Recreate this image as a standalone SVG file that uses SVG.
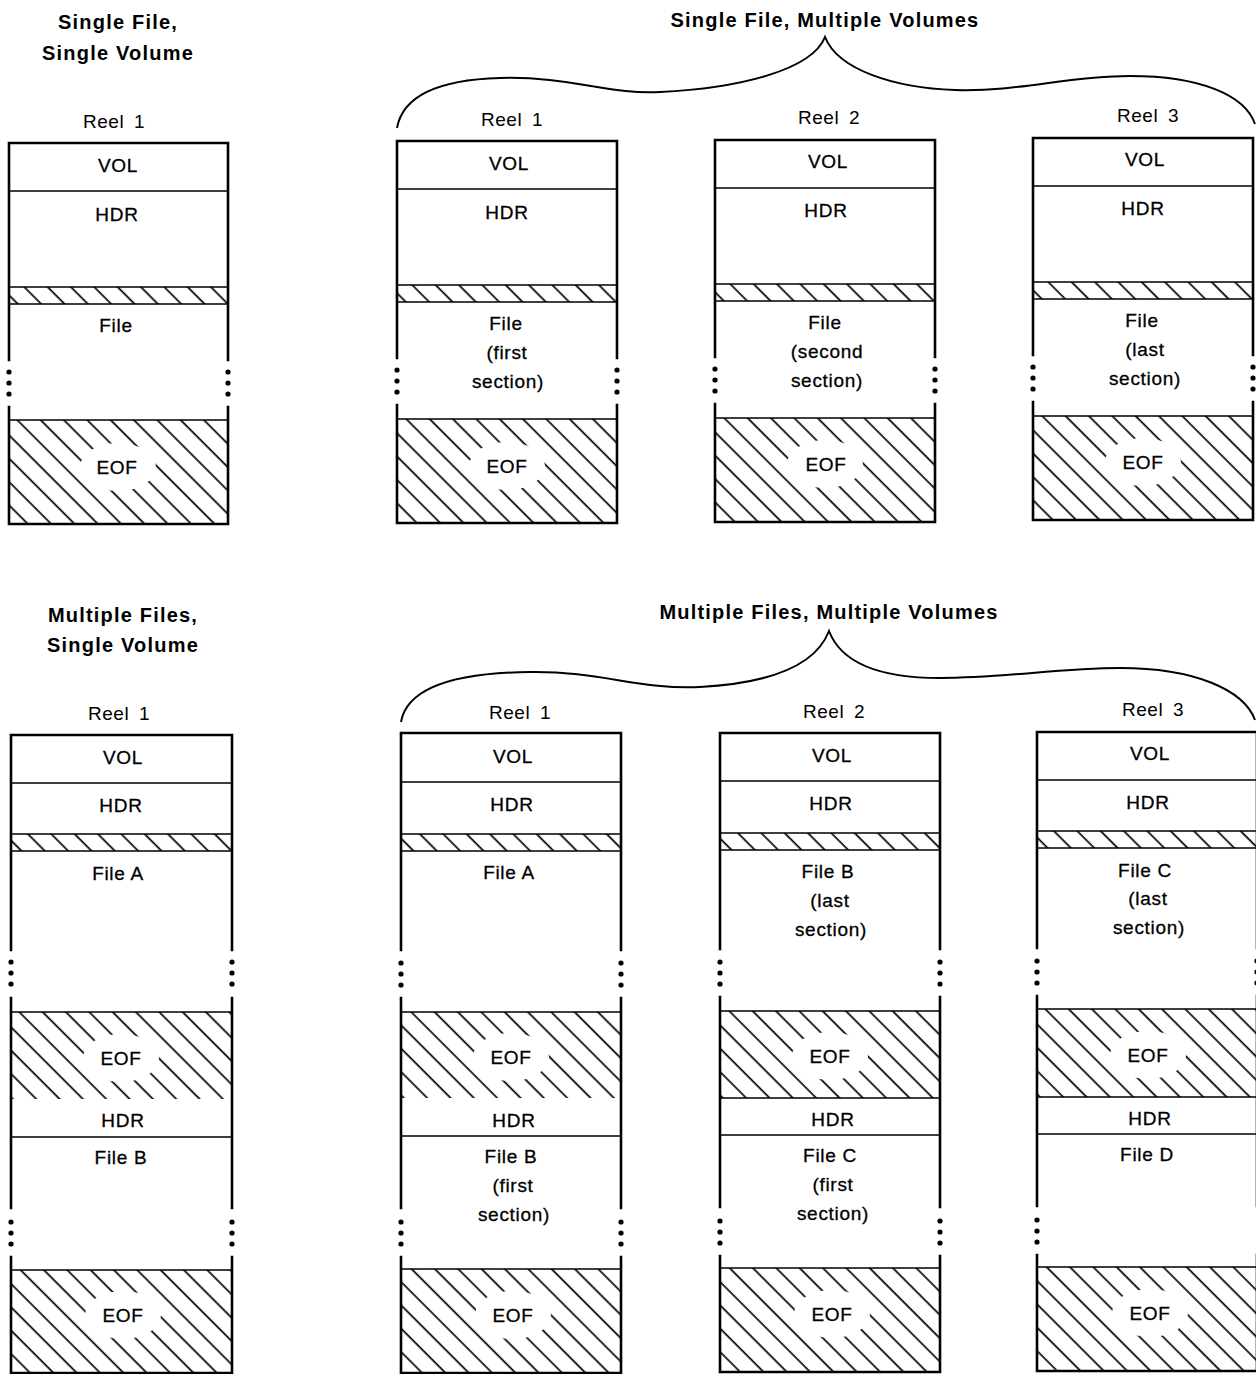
<svg xmlns="http://www.w3.org/2000/svg" width="1256" height="1374" viewBox="0 0 1256 1374">
<defs>
<pattern id="hatch" patternUnits="userSpaceOnUse" width="16.5" height="16.5" patternTransform="rotate(-45)">
<line x1="8" y1="-2" x2="8" y2="19" stroke="#000" stroke-width="1.7"/>
</pattern>
<g id="dots"><circle cx="0" cy="0" r="2.6"/><circle cx="0" cy="11" r="2.6"/><circle cx="0" cy="22" r="2.6"/></g>
</defs>
<style>
.bd{fill:none;stroke:#000;stroke-width:2.6;stroke-linecap:square}
.ln{fill:none;stroke:#000;stroke-width:1.6}
.ht{fill:url(#hatch)}
.gap{fill:#fff}
.br{fill:none;stroke:#000;stroke-width:2}
text{font-family:"Liberation Sans",Arial,sans-serif;fill:#000}
.ttl{font-size:20px;font-weight:bold;letter-spacing:1.2px;text-anchor:middle}
.rl{font-size:19px;letter-spacing:0.5px;word-spacing:4px;text-anchor:middle}
.lb{font-size:19px;letter-spacing:0.7px;text-anchor:middle;stroke:#000;stroke-width:0.3}
</style>
<rect width="1256" height="1374" fill="#fff"/>

<!-- titles -->
<g id="titles">
<text class="ttl" x="118" y="29">Single File,</text>
<text class="ttl" x="118" y="60">Single Volume</text>
<text class="ttl" x="825" y="27">Single File, Multiple Volumes</text>
<text class="ttl" x="123" y="622">Multiple Files,</text>
<text class="ttl" x="123" y="652">Single Volume</text>
<text class="ttl" x="829" y="619">Multiple Files, Multiple Volumes</text>
</g>

<g id="connectors">
<path class="br" d="M397,128 C402,100 430,80 500,78 C570,76 610,95 660,92 C740,88 812,70 825,37 C838,70 895,88 955,90 C1020,92 1065,76 1130,76 C1200,76 1245,95 1255,124"/>
<path class="br" d="M401,722 C406,694 440,673 530,672 C600,671 640,690 700,687 C772,683 816,665 829,631 C842,665 885,678 940,678 C1005,678 1058,668 1120,668 C1195,668 1244,690 1255,720"/>
</g>

<!-- Top row: single file single volume -->
<g id="sfsv-reel1">
<text class="rl" x="114" y="128">Reel 1</text>
<g transform="translate(9,143)">
<rect class="ht" x="0" y="144" width="219" height="17"/>
<rect class="ht" x="0" y="277" width="219" height="104"/>
<ellipse class="gap" cx="109" cy="324" rx="38" ry="24"/>
<path class="ln" d="M0,48H219M0,144H219M0,161H219M0,277H219"/>
<path class="bd" d="M0,0H219M0,0V217M0,264V381M219,0V217M219,264V381M0,381H219"/>
<use href="#dots" x="0" y="229"/><use href="#dots" x="219" y="229"/>
<text class="lb" x="109" y="29">VOL</text>
<text class="lb" x="108" y="78">HDR</text>
<text class="lb" x="107" y="189">File</text>
<text class="lb" x="108" y="331">EOF</text>
</g>
</g>

<g id="sfmv-reel1">
<text class="rl" x="512" y="126">Reel 1</text>
<g transform="translate(397,141)">
<rect class="ht" x="0" y="144" width="220" height="17"/>
<rect class="ht" x="0" y="278" width="220" height="104"/>
<ellipse class="gap" cx="110" cy="325" rx="38" ry="24"/>
<path class="ln" d="M0,48H220M0,144H220M0,161H220M0,278H220"/>
<path class="bd" d="M0,0H220M0,0V217M0,264V382M220,0V217M220,264V382M0,382H220"/>
<use href="#dots" x="0" y="229"/><use href="#dots" x="220" y="229"/>
<text class="lb" x="112" y="29">VOL</text>
<text class="lb" x="110" y="78">HDR</text>
<text class="lb" x="109" y="189">File</text>
<text class="lb" x="110" y="218">(first</text>
<text class="lb" x="111" y="247">section)</text>
<text class="lb" x="110" y="332">EOF</text>
</g>
</g>

<g id="sfmv-reel2">
<text class="rl" x="829" y="124">Reel 2</text>
<g transform="translate(715,140)">
<rect class="ht" x="0" y="144" width="220" height="17"/>
<rect class="ht" x="0" y="278" width="220" height="104"/>
<ellipse class="gap" cx="110" cy="324" rx="38" ry="24"/>
<path class="ln" d="M0,48H220M0,144H220M0,161H220M0,278H220"/>
<path class="bd" d="M0,0H220M0,0V217M0,264V382M220,0V217M220,264V382M0,382H220"/>
<use href="#dots" x="0" y="229"/><use href="#dots" x="220" y="229"/>
<text class="lb" x="113" y="28">VOL</text>
<text class="lb" x="111" y="77">HDR</text>
<text class="lb" x="110" y="189">File</text>
<text class="lb" x="112" y="218">(second</text>
<text class="lb" x="112" y="247">section)</text>
<text class="lb" x="111" y="331">EOF</text>
</g>
</g>

<g id="sfmv-reel3">
<text class="rl" x="1148" y="122">Reel 3</text>
<g transform="translate(1033,138)">
<rect class="ht" x="0" y="144" width="220" height="17"/>
<rect class="ht" x="0" y="278" width="220" height="104"/>
<ellipse class="gap" cx="110" cy="324" rx="38" ry="24"/>
<path class="ln" d="M0,48H220M0,144H220M0,161H220M0,278H220"/>
<path class="bd" d="M0,0H220M0,0V217M0,264V382M220,0V217M220,264V382M0,382H220"/>
<use href="#dots" x="0" y="229"/><use href="#dots" x="220" y="229"/>
<text class="lb" x="112" y="28">VOL</text>
<text class="lb" x="110" y="77">HDR</text>
<text class="lb" x="109" y="189">File</text>
<text class="lb" x="112" y="218">(last</text>
<text class="lb" x="112" y="247">section)</text>
<text class="lb" x="110" y="331">EOF</text>
</g>
</g>

<!-- Bottom row: multiple files single volume -->
<g id="mfsv-reel1">
<text class="rl" x="119" y="720">Reel 1</text>
<g transform="translate(11,735)">
<rect class="ht" x="0" y="99" width="221" height="17"/>
<rect class="ht" x="0" y="277" width="221" height="87"/>
<ellipse class="gap" cx="110" cy="323" rx="38" ry="24"/>
<rect class="ht" x="0" y="535" width="221" height="103"/>
<ellipse class="gap" cx="112" cy="580" rx="38" ry="24"/>
<path class="ln" d="M0,48H221M0,99H221M0,116H221M0,277H221M0,402H221M0,535H221"/>
<path class="bd" d="M0,0H221M0,0V215M0,263V473M0,522V638M221,0V215M221,263V473M221,522V638M0,638H221"/>
<use href="#dots" x="0" y="227"/><use href="#dots" x="221" y="227"/>
<use href="#dots" x="0" y="487"/><use href="#dots" x="221" y="487"/>
<text class="lb" x="112" y="29">VOL</text>
<text class="lb" x="110" y="77">HDR</text>
<text class="lb" x="107" y="145">File A</text>
<text class="lb" x="110" y="330">EOF</text>
<text class="lb" x="112" y="392">HDR</text>
<text class="lb" x="110" y="429">File B</text>
<text class="lb" x="112" y="587">EOF</text>
</g>
</g>

<!-- Bottom row: multiple files multiple volumes -->
<g id="mfmv-reel1">
<text class="rl" x="520" y="719">Reel 1</text>
<g transform="translate(401,733)">
<rect class="ht" x="0" y="101" width="220" height="17"/>
<rect class="ht" x="0" y="279" width="220" height="86"/>
<ellipse class="gap" cx="110" cy="324" rx="38" ry="24"/>
<rect class="ht" x="0" y="536" width="220" height="104"/>
<ellipse class="gap" cx="112" cy="582" rx="38" ry="24"/>
<path class="ln" d="M0,49H220M0,101H220M0,118H220M0,279H220M0,403H220M0,536H220"/>
<path class="bd" d="M0,0H220M0,0V217M0,265V475M0,524V640M220,0V217M220,265V475M220,524V640M0,640H220"/>
<use href="#dots" x="0" y="230"/><use href="#dots" x="220" y="230"/>
<use href="#dots" x="0" y="489"/><use href="#dots" x="220" y="489"/>
<text class="lb" x="112" y="30">VOL</text>
<text class="lb" x="111" y="78">HDR</text>
<text class="lb" x="108" y="146">File A</text>
<text class="lb" x="110" y="331">EOF</text>
<text class="lb" x="113" y="394">HDR</text>
<text class="lb" x="110" y="430">File B</text>
<text class="lb" x="112" y="459">(first</text>
<text class="lb" x="113" y="488">section)</text>
<text class="lb" x="112" y="589">EOF</text>
</g>
</g>

<g id="mfmv-reel2">
<text class="rl" x="834" y="718">Reel 2</text>
<g transform="translate(720,733)">
<rect class="ht" x="0" y="100" width="220" height="17"/>
<rect class="ht" x="0" y="278" width="220" height="87"/>
<ellipse class="gap" cx="110" cy="323" rx="38" ry="24"/>
<rect class="ht" x="0" y="535" width="220" height="104"/>
<ellipse class="gap" cx="112" cy="581" rx="38" ry="24"/>
<path class="ln" d="M0,48H220M0,100H220M0,117H220M0,278H220M0,365H220M0,402H220M0,535H220"/>
<path class="bd" d="M0,0H220M0,0V216M0,264V474M0,523V639M220,0V216M220,264V474M220,523V639M0,639H220"/>
<use href="#dots" x="0" y="229"/><use href="#dots" x="220" y="229"/>
<use href="#dots" x="0" y="488"/><use href="#dots" x="220" y="488"/>
<text class="lb" x="112" y="29">VOL</text>
<text class="lb" x="111" y="77">HDR</text>
<text class="lb" x="108" y="145">File B</text>
<text class="lb" x="110" y="174">(last</text>
<text class="lb" x="111" y="203">section)</text>
<text class="lb" x="110" y="330">EOF</text>
<text class="lb" x="113" y="393">HDR</text>
<text class="lb" x="110" y="429">File C</text>
<text class="lb" x="113" y="458">(first</text>
<text class="lb" x="113" y="487">section)</text>
<text class="lb" x="112" y="588">EOF</text>
</g>
</g>

<g id="mfmv-reel3">
<text class="rl" x="1153" y="716">Reel 3</text>
<g transform="translate(1037,732)">
<rect class="ht" x="0" y="99" width="220" height="17"/>
<rect class="ht" x="0" y="277" width="220" height="88"/>
<ellipse class="gap" cx="111" cy="323" rx="38" ry="24"/>
<rect class="ht" x="0" y="535" width="220" height="104"/>
<ellipse class="gap" cx="113" cy="581" rx="38" ry="24"/>
<path class="ln" d="M0,48H220M0,99H220M0,116H220M0,277H220M0,365H220M0,402H220M0,535H220"/>
<path class="bd" d="M0,0H220M0,0V216M0,264V474M0,523V639M220,0V216M220,264V474M220,523V639M0,639H220"/>
<use href="#dots" x="0" y="229"/><use href="#dots" x="220" y="229"/>
<use href="#dots" x="0" y="488"/>
<text class="lb" x="113" y="28">VOL</text>
<text class="lb" x="111" y="77">HDR</text>
<text class="lb" x="108" y="145">File C</text>
<text class="lb" x="111" y="173">(last</text>
<text class="lb" x="112" y="202">section)</text>
<text class="lb" x="111" y="330">EOF</text>
<text class="lb" x="113" y="393">HDR</text>
<text class="lb" x="110" y="429">File D</text>
<text class="lb" x="113" y="588">EOF</text>
</g>
</g>
</svg>
